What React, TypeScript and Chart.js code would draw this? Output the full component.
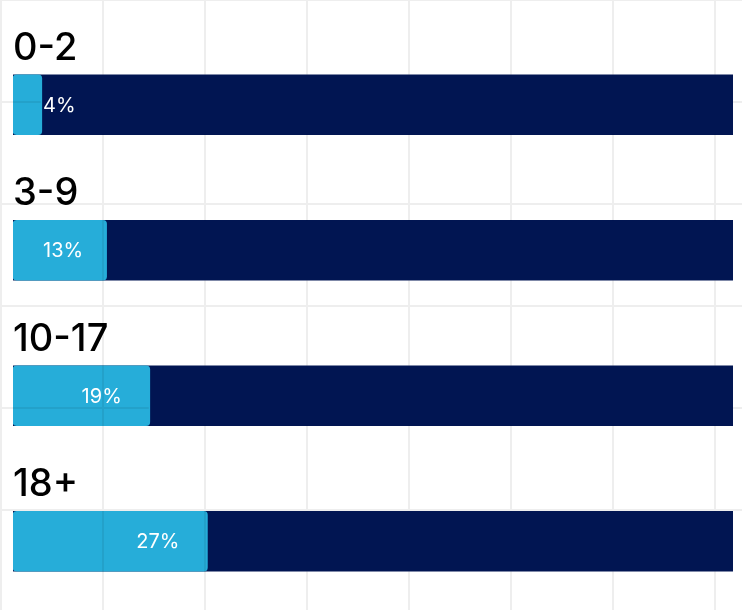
import React, { useEffect, useRef } from "react";
import { Chart, registerables } from "chart.js";

Chart.register(...registerables);

const categories: string[] = ["0-2", "3-9", "10-17", "18+"];
const shares: number[] = [4, 13, 19, 27];
const totals: number[] = [100, 100, 100, 100];

const LIGHT = "#26ADD9";
const NAVY = "#011552";

const overlayGrid = {
  id: "overlayGrid",
  afterDatasetsDraw(chart: any) {
    const ctx = chart.ctx as CanvasRenderingContext2D;
    const w = chart.width;
    const h = chart.height;
    const lightMeta = chart.getDatasetMeta(0);
    const navyMeta = chart.getDatasetMeta(1);
    ctx.save();
    ctx.beginPath();
    ctx.rect(0, 0, w, h);
    navyMeta.data.forEach((bar: any, i: number) => {
      const lb = lightMeta.data[i];
      const x0 = lb.x - 1;
      const top = bar.y - bar.height / 2;
      ctx.rect(x0, top, bar.x - x0, bar.height);
    });
    ctx.clip("evenodd");
    ctx.strokeStyle = "rgba(0,0,0,0.065)";
    ctx.lineWidth = 2;
    ctx.beginPath();
    for (let x = 1; x <= w; x += 102) {
      ctx.moveTo(x, 0);
      ctx.lineTo(x, h);
    }
    for (let y = 0; y <= h; y += 102) {
      ctx.moveTo(0, y);
      ctx.lineTo(w, y);
    }
    ctx.stroke();
    ctx.restore();
  },
};

const barLabels = {
  id: "barLabels",
  afterDraw(chart: any) {
    const ctx = chart.ctx as CanvasRenderingContext2D;
    const meta = chart.getDatasetMeta(0);
    ctx.save();
    meta.data.forEach((bar: any, i: number) => {
      const top = bar.y - bar.height / 2;
      ctx.fillStyle = "#000000";
      ctx.font = "500 38px Inter, 'Noto Sans', sans-serif";
      ctx.textAlign = "left";
      ctx.textBaseline = "alphabetic";
      ctx.fillText(categories[i], chart.chartArea.left, top - 15);
      const txt = shares[i] + "%";
      ctx.font = "400 20px Inter, 'Noto Sans', sans-serif";
      ctx.fillStyle = "#ffffff";
      ctx.textBaseline = "middle";
      const tw = ctx.measureText(txt).width;
      let left = bar.x - 28 - tw;
      if (left < bar.base + 30) left = bar.base + 30;
      ctx.fillText(txt, left, bar.y + 1);
    });
    ctx.restore();
  },
};

export default function App() {
  const ref = useRef<HTMLCanvasElement | null>(null);

  useEffect(() => {
    document.body.style.margin = "0";
    if (!ref.current) return;
    const chart = new Chart(ref.current, {
      type: "bar",
      data: {
        labels: categories,
        datasets: [
          {
            data: shares,
            backgroundColor: LIGHT,
            borderRadius: 4,
            borderSkipped: false,
            barThickness: 60,
            grouped: false,
          },
          {
            data: totals,
            backgroundColor: NAVY,
            borderRadius: 0,
            barThickness: 60,
            grouped: false,
          },
        ],
      },
      options: {
        indexAxis: "y",
        responsive: false,
        animation: false,
        layout: { padding: { top: 32, bottom: 8, left: 13, right: 9 } },
        plugins: {
          legend: { display: false },
          tooltip: { enabled: false },
        },
        scales: {
          x: { display: false, min: 0, max: 100 },
          y: { display: false },
        },
      },
      plugins: [overlayGrid, barLabels],
    } as any);
    return () => chart.destroy();
  }, []);

  return (
    <div style={{ width: 742, height: 610, overflow: "hidden", background: "#ffffff" }}>
      <canvas ref={ref} width={742} height={622} style={{ display: "block" }} />
    </div>
  );
}
